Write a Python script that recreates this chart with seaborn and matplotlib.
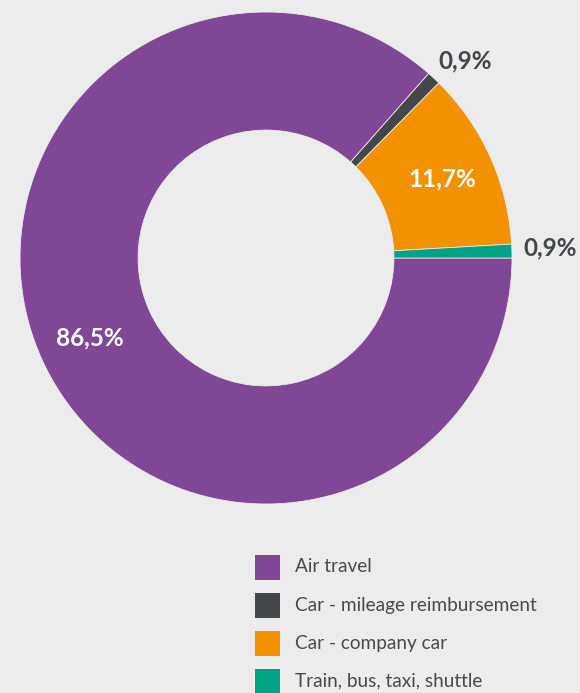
import numpy as np
import matplotlib
matplotlib.use("Agg")
import matplotlib.pyplot as plt
import seaborn as sns
from matplotlib.patches import Rectangle

categories = ["Air travel", "Car - mileage reimbursement", "Car - company car", "Train, bus, taxi, shuttle"]
values = [86.5, 0.9, 11.7, 0.9]
value_labels = ["86,5%", "0,9%", "11,7%", "0,9%"]
colors = ["#7f4795", "#43474a", "#f39200", "#00a383"]
label_inside = [True, False, True, False]

BG = "#ececec"
sns.set_style("white", {"axes.facecolor": BG, "figure.facecolor": BG})
plt.rcParams['font.family'] = ['Lato', 'DejaVu Sans']

W, H = 580, 693
fig = plt.figure(figsize=(W / 100, H / 100), dpi=100)
fig.patch.set_facecolor(BG)

cx, cy, R = 266, 258, 246
ax = fig.add_axes([(cx - R) / W, (H - cy - R) / H, 2 * R / W, 2 * R / H])
ax.set_facecolor(BG)
wedges, _ = ax.pie(values, colors=colors, startangle=0, counterclock=False,
                   radius=1.0, wedgeprops=dict(width=0.48, edgecolor=BG, linewidth=0.6))
ax.set_xlim(-1, 1)
ax.set_ylim(-1, 1)
ax.set_aspect("equal")
ax.axis("off")

for w, lab, inside in zip(wedges, value_labels, label_inside):
    ang = np.deg2rad((w.theta1 + w.theta2) / 2)
    if inside:
        r = 0.785
        ax.text(r * np.cos(ang), r * np.sin(ang), lab, ha="center", va="center",
                fontsize=17.5, fontweight="bold", color="white", clip_on=False)
    else:
        r = 1.08
        ax.text(r * np.cos(ang) - 0.035, r * np.sin(ang) + 0.01, lab, ha="left", va="center",
                fontsize=17.5, fontweight="bold", color="#43474a", clip_on=False)

# legend
y0, dy, sq = 567, 38, 25
for i, (cat, col) in enumerate(zip(categories, colors)):
    yc = y0 + i * dy
    fig.patches.append(Rectangle((255 / W, (H - yc - sq / 2) / H), sq / W, sq / H,
                                 transform=fig.transFigure, facecolor=col, edgecolor="none"))
    fig.text(295 / W, (H - yc) / H, cat, ha="left", va="center", fontsize=13.7,
             color="#4a4a4a")

fig.savefig("out.png", dpi=100, facecolor=BG)
